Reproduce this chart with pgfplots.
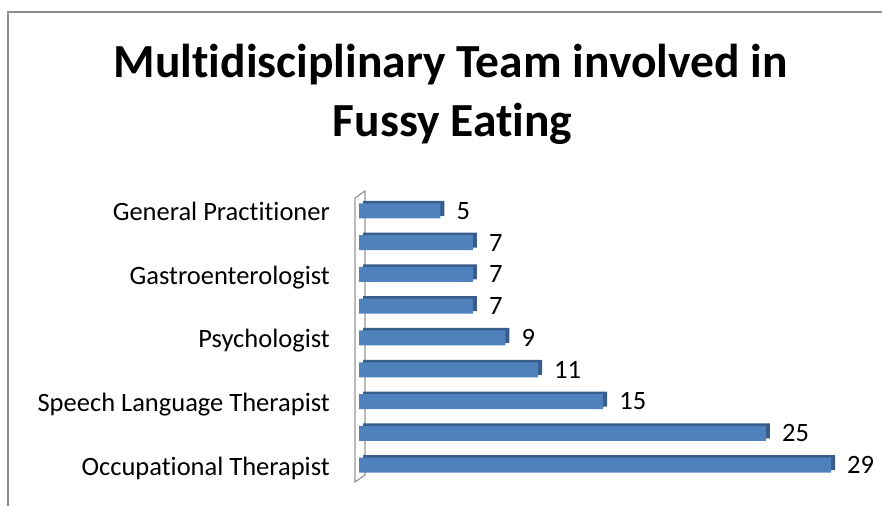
\documentclass[border=0pt]{standalone}
\usepackage{fontspec}
\setmainfont{Carlito}[Ligatures=NoCommon]
\usepackage{pgfplots}
\pgfplotsset{compat=1.18}
\definecolor{barface}{HTML}{4F81BD}
\definecolor{bardark}{HTML}{385D8A}
\definecolor{framegray}{HTML}{8C8C8C}
\begin{document}
\begin{tikzpicture}[x=1bp,y=1bp]
\useasboundingbox (0,0) rectangle (882,506);
\draw[framegray, line width=1.6bp] (8,-2) -- (8,494) -- (884,494);
\node[font=\fontsize{47.5bp}{59bp}\selectfont\bfseries, anchor=base, inner sep=0pt] at (450.5,428) {Multidisciplinary Team involved in};
\node[font=\fontsize{47.5bp}{59bp}\selectfont\bfseries, anchor=base, inner sep=0pt] at (452.5,369) {Fussy Eating};
\draw[framegray!90, line width=1.2bp, fill=white] (355,24) -- (355,308) -- (365,315) -- (365,31) -- cycle;
\begin{axis}[
  at={(359bp,25bp)}, anchor=south west,
  scale only axis, width=472bp, height=286bp,
  xmin=0, xmax=29, ymin=0.5, ymax=9.5,
  clip=false,
  axis x line=none,
  axis y line=left,
  y axis line style={draw=none,-},
  major tick length=0pt,
  ytick={1,3,5,7,9},
  yticklabels={Occupational Therapist,Speech Language Therapist,Psychologist,Gastroenterologist,General Practitioner},
  yticklabel style={font=\fontsize{26.5bp}{30bp}\selectfont, anchor=base east, inner sep=0pt, xshift=-29bp, yshift=-10bp},
  xbar, bar width=15bp,
  /pgf/number format/assume math mode=true,
]
\addplot[fill=bardark, draw=none, bar shift=2.5bp, xshift=4bp] coordinates {(29,1) (25,2) (15,3) (11,4) (9,5) (7,6) (7,7) (7,8) (5,9)};
\addplot[fill=barface, draw=none, bar shift=0pt,
  nodes near coords,
  every node near coord/.append style={font=\fontsize{26.5bp}{30bp}\selectfont, anchor=west, inner sep=0pt, xshift=16bp, yshift=0bp, text=black}]
  coordinates {(29,1) (25,2) (15,3) (11,4) (9,5) (7,6) (7,7) (7,8) (5,9)};
\end{axis}
\end{tikzpicture}
\end{document}
